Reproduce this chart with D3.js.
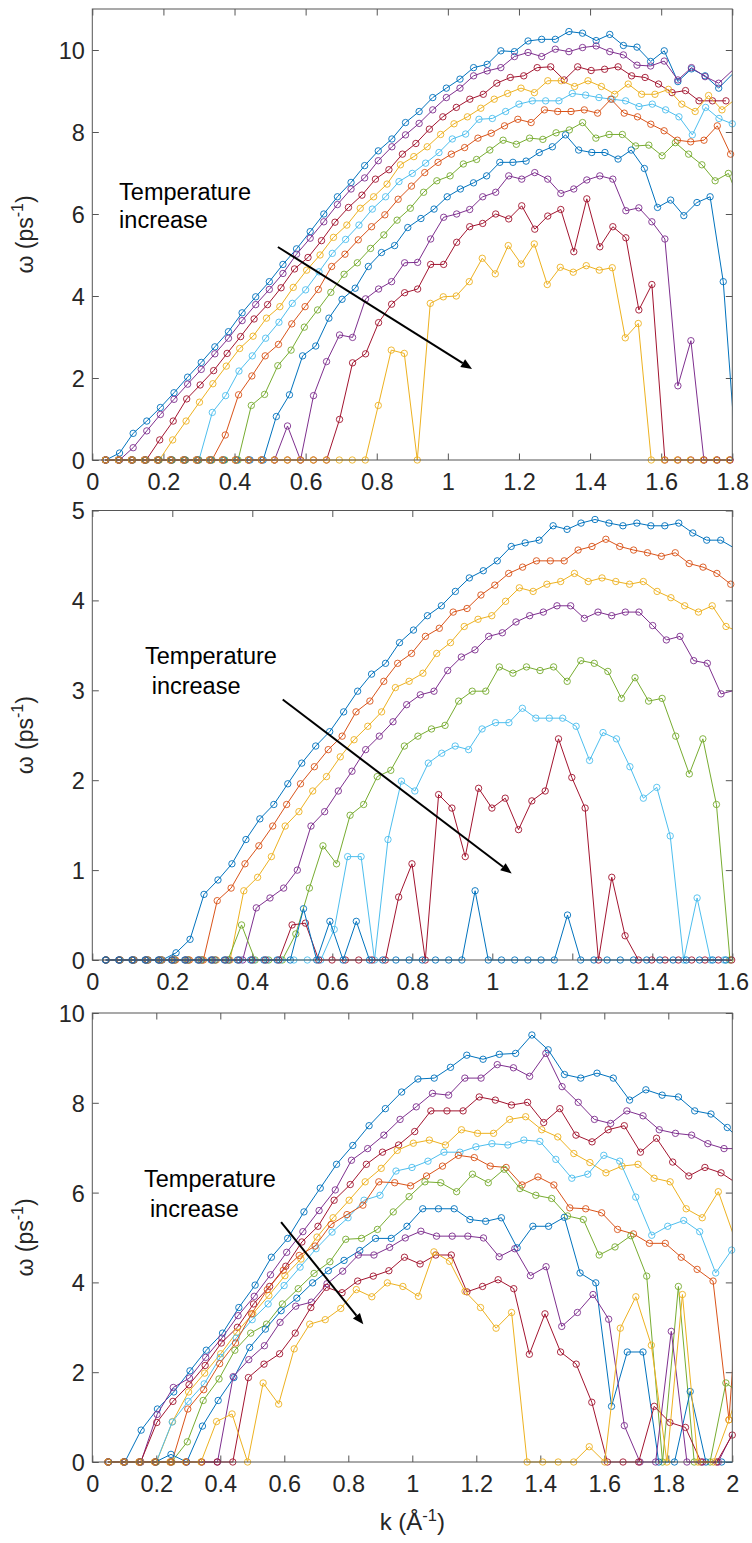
<!DOCTYPE html>
<html><head><meta charset="utf-8">
<script src="https://cdn.jsdelivr.net/npm/d3@7"></script>
<style>
body{margin:0;background:#fff}
svg{display:block}
text{font-family:"Liberation Sans",Arial,Helvetica,sans-serif}
</style>
</head><body>
<svg id="c" width="752" height="1543"></svg>
<script>
// ---------------- DATA ----------------
// Each series: omega values at k = n * step (n = 1, 2, ...), step is the k-grid spacing of that series
const p1XTicks = [0,0.2,0.4,0.6,0.8,1,1.2,1.4,1.6,1.8];
const p1XLabels = ["0","0.2","0.4","0.6","0.8","1","1.2","1.4","1.6","1.8"];
const p1YTicks = [0,2,4,6,8,10];
const p1Step = [0.0383,0.0383,0.03792,0.03768,0.0375,0.0374,0.03727,0.03697,0.0366,0.0366,0.03656];
const p1Omega = [
 [0,0.17,0.65,0.95,1.28,1.64,2.02,2.38,2.76,3.13,3.59,3.98,4.35,4.77,5.15,5.57,6.0,6.42,6.77,7.18,7.54,7.83,8.23,8.50,8.84,9.07,9.29,9.57,9.65,9.98,9.96,10.22,10.26,10.26,10.45,10.41,10.23,10.38,10.11,10.07,9.72,9.98,9.23,9.54,9.37,9.07,9.41],
 [0,0,0.30,0.71,1.11,1.48,1.85,2.21,2.59,2.97,3.40,3.79,4.16,4.55,5.02,5.41,5.81,6.23,6.61,6.88,7.30,7.64,7.93,8.21,8.54,8.84,9.07,9.37,9.49,9.57,9.84,9.94,9.84,10.02,9.96,10.06,10.10,9.96,9.88,9.63,9.61,9.73,9.27,9.57,9.35,9.19,9.50],
 [0,0,0,0,0.49,0.95,1.49,1.83,2.18,2.60,3.01,3.44,3.79,4.20,4.66,4.94,5.35,5.80,6.16,6.46,6.85,7.08,7.46,7.72,8.07,8.37,8.60,8.80,8.92,9.19,9.33,9.37,9.57,9.59,9.27,9.59,9.50,9.53,9.59,9.37,9.33,9.17,8.96,9.01,8.76,8.76,8.76],
 [0,0,0,0,0,0.49,0.95,1.41,1.86,2.29,2.72,3.02,3.46,3.74,4.21,4.63,5.0,5.43,5.73,6.14,6.42,6.73,7.20,7.40,7.64,7.94,8.20,8.37,8.58,8.80,8.94,9.07,8.96,9.25,9.25,9.11,9.25,9.11,8.92,9.17,8.92,8.92,9.04,8.68,8.50,8.89,8.54,8.80],
 [0,0,0,0,0,0,0,0,1.16,1.57,2.17,2.54,2.97,3.36,3.82,4.15,4.59,5.04,5.38,5.73,6.12,6.42,6.79,6.99,7.24,7.50,7.83,7.95,8.31,8.33,8.50,8.68,8.76,8.76,8.76,8.94,8.90,8.84,8.80,8.76,8.62,8.68,8.54,8.37,7.93,8.60,8.33,8.20],
 [0,0,0,0,0,0,0,0,0,0.61,1.59,2.05,2.54,2.82,3.32,3.74,4.16,4.72,5.02,5.37,5.69,5.98,6.36,6.68,7.01,7.26,7.46,7.62,7.85,7.97,8.15,8.31,8.23,8.54,8.50,8.50,8.54,8.46,8.80,8.46,8.37,8.19,8.03,7.80,7.76,7.80,8.15,7.46],
 [0,0,0,0,0,0,0,0,0,0,0,1.33,1.60,2.30,2.68,3.24,3.66,4.09,4.53,4.81,5.16,5.49,5.85,6.14,6.53,6.81,6.93,7.22,7.33,7.56,7.80,7.70,7.85,7.82,7.98,8.05,8.23,7.85,7.94,7.94,7.66,7.68,7.42,7.74,7.46,7.20,6.81,6.99,6.2],
 [0,0,0,0,0,0,0,0,0,0,0,0,0,1.06,1.59,2.54,2.78,3.46,3.92,4.19,4.72,5.06,5.23,5.67,5.89,6.12,6.42,6.61,6.76,6.93,7.26,7.26,7.29,7.50,7.64,7.93,7.56,7.50,7.50,7.34,7.56,7.11,6.16,6.34,5.96,6.28,6.42,4.35,0],
 [0,0,0,0,0,0,0,0,0,0,0,0,0,0,0.83,0,1.57,2.40,3.05,2.99,3.93,4.17,4.35,4.81,4.82,5.39,5.92,6.0,6.11,6.42,6.53,6.93,6.85,7.01,6.85,6.50,6.61,6.83,6.93,6.85,6.08,6.15,5.81,5.39,1.81,2.91,0,0,0],
 [0,0,0,0,0,0,0,0,0,0,0,0,0,0,0,0,0,0,0.99,2.37,2.59,3.35,3.80,4.08,4.17,4.77,4.77,5.31,5.69,5.77,6.0,5.88,6.20,5.63,5.95,6.11,5.08,6.37,5.20,5.69,5.42,3.66,4.28,0,0,0,0,0,0],
 [0,0,0,0,0,0,0,0,0,0,0,0,0,0,0,0,0,0,0,0,0,1.33,2.68,2.60,0,3.82,3.98,4.0,4.35,4.92,4.54,5.23,4.78,5.27,4.28,4.70,4.58,4.74,4.63,4.69,2.98,3.33,0,0,0,0,0,0,0]
];

const p2XTicks = [0,0.2,0.4,0.6,0.8,1,1.2,1.4,1.6];
const p2XLabels = ["0","0.2","0.4","0.6","0.8","1","1.2","1.4","1.6"];
const p2YTicks = [0,1,2,3,4,5];
const p2Step = [0.03491,0.0347,0.03444,0.03417,0.03392,0.0336,0.0333,0.033];
const p2Omega = [
 [0,0,0,0,0,0.08,0.23,0.73,0.89,1.07,1.34,1.57,1.73,1.96,2.19,2.38,2.54,2.76,2.99,3.18,3.30,3.53,3.67,3.83,3.94,4.10,4.25,4.33,4.44,4.60,4.64,4.67,4.83,4.79,4.86,4.90,4.86,4.83,4.86,4.83,4.83,4.86,4.75,4.67,4.67,4.58],
 [0,0,0,0,0,0,0,0,0.66,0.80,1.07,1.27,1.49,1.73,1.96,2.15,2.34,2.49,2.76,2.88,3.10,3.30,3.41,3.60,3.69,3.87,3.91,4.06,4.17,4.30,4.37,4.44,4.44,4.44,4.56,4.60,4.68,4.60,4.56,4.53,4.49,4.53,4.41,4.37,4.30,4.18],
 [0,0,0,0,0,0,0,0,0,0,0.77,0.92,1.15,1.49,1.65,1.88,2.04,2.26,2.45,2.60,2.76,3.03,3.10,3.19,3.41,3.53,3.71,3.79,3.83,3.99,4.14,4.10,4.18,4.21,4.30,4.21,4.25,4.21,4.18,4.21,4.10,4.03,3.94,3.87,3.94,3.71,3.65],
 [0,0,0,0,0,0,0,0,0,0,0,0.58,0.69,0.80,1.0,1.49,1.65,1.88,2.10,2.34,2.49,2.65,2.84,2.95,2.99,3.22,3.37,3.45,3.60,3.64,3.76,3.83,3.87,3.94,3.94,3.80,3.87,3.83,3.87,3.87,3.72,3.56,3.60,3.33,3.30,2.96,3.0],
 [0,0,0,0,0,0,0,0,0,0,0.39,0,0,0,0.29,0.80,1.27,1.07,1.61,1.73,2.04,2.11,2.38,2.49,2.57,2.61,2.88,2.99,2.99,3.26,3.19,3.26,3.22,3.26,3.10,3.33,3.30,3.21,2.91,3.14,2.88,2.91,2.49,2.07,2.46,1.73,0],
 [0,0,0,0,0,0,0,0,0,0,0,0,0,0,0,0,0,0.34,1.15,1.15,0,1.34,1.99,1.88,2.19,2.30,2.38,2.34,2.57,2.64,2.64,2.80,2.69,2.69,2.69,2.60,2.22,2.53,2.46,2.15,1.80,1.92,1.38,0,0.69,0,0],
 [0,0,0,0,0,0,0,0,0,0,0,0,0,0,0.39,0.41,0,0,0,0,0,0,0.70,1.07,0,1.84,1.69,1.15,1.91,1.69,1.80,1.45,1.77,1.88,2.46,2.03,1.69,0,0.92,0.27,0,0,0,0,0,0,0,0],
 [0,0,0,0,0,0,0,0,0,0,0,0,0,0,0,0.57,0,0.43,0,0.43,0,0,0,0,0,0,0,0,0.77,0,0,0,0,0,0,0.50,0,0,0,0,0,0,0,0,0,0,0,0]
];

const p3XTicks = [0,0.2,0.4,0.6,0.8,1,1.2,1.4,1.6,1.8,2];
const p3XLabels = ["0","0.2","0.4","0.6","0.8","1","1.2","1.4","1.6","1.8","2"];
const p3YTicks = [0,2,4,6,8,10];
const p3Step = [0.05088,0.05062,0.05038,0.05016,0.04995,0.04974,0.0495,0.04917,0.0489,0.04878,0.04853];
const p3Omega = [
 [0,0,0.71,1.18,1.56,2.03,2.49,2.87,3.44,3.94,4.56,4.98,5.57,6.10,6.63,7.05,7.49,7.87,8.24,8.53,8.55,8.79,9.06,8.97,9.08,9.10,9.51,9.18,8.63,8.55,8.66,8.55,8.06,8.29,8.17,8.13,7.82,7.75,7.45,7.1],
 [0,0,0,1.06,1.66,1.87,2.33,2.76,3.26,3.69,4.17,4.67,5.13,5.60,6.06,6.72,6.98,7.28,7.63,7.91,8.21,8.17,8.55,8.55,8.85,8.78,8.59,9.10,8.36,8.01,7.63,7.54,7.82,7.71,7.40,7.32,7.28,7.09,6.98,6.98],
 [0,0,0,0.88,1.35,1.72,2.15,2.65,3.0,3.52,3.91,4.36,4.90,5.25,5.83,6.18,6.63,6.90,7.06,7.36,7.82,7.82,7.82,8.13,8.06,7.95,8.01,7.56,7.87,7.28,7.13,7.40,7.49,6.90,7.21,6.68,6.37,6.56,6.44,6.2],
 [0,0,0,0,0.90,1.56,1.98,2.41,2.89,3.30,3.71,4.15,4.52,5.01,5.44,5.83,6.24,6.54,6.94,7.10,7.17,7.06,7.40,7.32,7.32,7.63,7.69,7.40,7.24,6.87,6.67,6.44,6.59,6.63,6.32,6.24,5.64,5.44,6.02,5.0],
 [0,0,0,0,0.89,1.35,1.74,2.33,2.76,3.17,3.52,3.93,4.34,4.75,5.12,5.44,5.83,5.94,6.48,6.56,6.70,6.90,6.90,7.02,7.09,7.06,7.17,7.14,6.74,6.32,6.41,6.83,6.70,5.90,5.05,5.25,5.38,5.13,4.21,4.72],
 [0,0,0,0,0,1.18,1.61,2.19,2.65,3.30,3.84,4.27,4.60,4.81,5.29,5.51,5.72,6.24,6.22,6.15,6.37,6.59,6.83,6.78,6.59,6.56,6.17,6.35,6.17,5.66,5.64,5.55,5.18,5.08,4.87,4.87,4.56,4.29,4.03,0.94,6.0],
 [0,0,0,0,0,0.45,1.37,1.85,2.49,2.87,3.07,3.52,3.86,4.20,4.46,4.96,4.98,5.18,5.57,5.91,6.24,6.22,6.02,6.41,6.22,6.52,6.09,5.94,5.87,5.48,5.40,4.61,4.79,5.04,4.14,0,3.91,0,0,1.76,1.5],
 [0,0,0,0,0.17,0,0.80,1.37,1.88,2.55,2.96,3.37,3.65,3.99,4.26,4.49,4.71,4.98,4.98,5.25,5.64,5.64,5.64,5.40,5.36,5.44,4.77,5.25,5.25,5.45,4.21,3.99,1.24,2.45,2.45,0,0,1.57,0,0,0],
 [0,0,0,0,0,0,0,0,1.90,2.28,2.59,3.11,3.47,3.56,3.97,4.25,4.61,4.61,4.78,4.99,5.14,5.03,5.03,5.03,4.99,4.57,4.75,4.15,4.35,3.02,3.33,3.73,3.18,0.81,0,0,2.91,0,0,0,0.7],
 [0,0,0,0,0,0,0,0,0,1.88,2.18,2.41,2.87,3.44,3.89,3.77,4.03,4.14,4.26,4.56,4.41,4.61,4.61,3.79,3.91,4.06,3.86,2.40,3.30,2.45,2.18,1.33,0,0,0,1.24,0.88,0.77,0,0,0.6],
 [0,0,0,0,0,0,0,0.90,1.07,0,1.76,1.29,2.52,3.07,3.17,3.42,3.84,3.68,3.99,3.91,3.69,4.68,4.47,3.80,3.44,2.98,3.33,0,0,0,0,0.34,0,2.98,3.68,2.60,0,3.73,0,0,0.94,2.0]
];

// annotation text and arrow, in data units (k, omega)
const noteLines = ["Temperature","increase"];
const p1NoteK = [0.0754,0.0754], p1NoteW = [6.34,5.67], p1Arrow = [0.522,5.195,1.068,2.22];
const p2NoteK = [0.1318,0.1485], p2NoteW = [3.289,2.963], p2Arrow = [0.476,2.897,1.0485,0.963];
const p3NoteK = [0.1616,0.180], p3NoteW = [6.13,5.46], p3Arrow = [0.59,5.345,0.847,3.067];

// ---------------- STYLE ----------------
const cB="#0072BD",cO="#D95319",cY="#EDB120",cP="#7E2F8E",cG="#77AC30",cL="#4DBEEE",cR="#A2142F";
const p1Color=[cB,cP,cR,cY,cL,cO,cG,cB,cP,cR,cY];
const p2Color=[cB,cO,cY,cP,cG,cL,cR,cB];
const p3Color=[cB,cP,cR,cY,cL,cO,cG,cB,cP,cR,cY];

const L=92.3, R=732.3;
const panels=[
 {top:9,   bottom:460,  xmax:1.8, ymax:11, xt:p1XTicks, xl:p1XLabels, yt:p1YTicks, steps:p1Step, om:p1Omega, col:p1Color, nk:p1NoteK, nw:p1NoteW, ar:p1Arrow, xlab:false},
 {top:510.5,bottom:960, xmax:1.6, ymax:5,  xt:p2XTicks, xl:p2XLabels, yt:p2YTicks, steps:p2Step, om:p2Omega, col:p2Color, nk:p2NoteK, nw:p2NoteW, ar:p2Arrow, xlab:false},
 {top:1013,bottom:1462, xmax:2,   ymax:10, xt:p3XTicks, xl:p3XLabels, yt:p3YTicks, steps:p3Step, om:p3Omega, col:p3Color, nk:p3NoteK, nw:p3NoteW, ar:p3Arrow, xlab:true}
];

const svg=d3.select("#c");
const FONT='"Liberation Sans",Arial,Helvetica,sans-serif';
const axisCol="#555", textCol="#262626", tickLen=6.5, tickFS=23.5;

function styleAxis(g){
  g.attr("font-family",FONT).attr("font-size",tickFS);
  g.selectAll("path.domain").remove();
  g.selectAll(".tick line").attr("stroke",axisCol).attr("stroke-width",1);
  g.selectAll(".tick text").attr("fill",textCol);
}

panels.forEach((p,pi)=>{
  const x=d3.scaleLinear().domain([0,p.xmax]).range([L,R]);
  const y=d3.scaleLinear().domain([0,p.ymax]).range([p.bottom,p.top]);
  const clipId="clip"+pi;
  svg.append("clipPath").attr("id",clipId).append("rect")
     .attr("x",L).attr("y",p.top-30).attr("width",R-L).attr("height",p.bottom-p.top+60);

  // axes ticks (inward), labels on bottom/left
  const xa=svg.append("g").attr("transform",`translate(0,${p.bottom})`)
    .call(d3.axisBottom(x).tickValues(p.xt).tickFormat((d,i)=>p.xl[i]).tickSizeInner(-tickLen).tickSizeOuter(0).tickPadding(13));
  styleAxis(xa);
  const ya=svg.append("g").attr("transform",`translate(${L},0)`)
    .call(d3.axisLeft(y).tickValues(p.yt).tickFormat(d3.format("d")).tickSizeInner(-tickLen).tickSizeOuter(0).tickPadding(7.5));
  styleAxis(ya);
  ya.selectAll(".tick text").attr("dy","0.36em");
  const xt2=svg.append("g").attr("transform",`translate(0,${p.top})`)
    .call(d3.axisTop(x).tickValues(p.xt).tickFormat("").tickSizeInner(-tickLen).tickSizeOuter(0));
  styleAxis(xt2);
  const yt2=svg.append("g").attr("transform",`translate(${R},0)`)
    .call(d3.axisRight(y).tickValues(p.yt).tickFormat("").tickSizeInner(-tickLen).tickSizeOuter(0));
  styleAxis(yt2);

  // series
  const sg=svg.append("g");
  p.om.forEach((vals,si)=>{
    const pts=vals.map((v,j)=>({k:(j+1)*p.steps[si],w:v}));
    sg.append("path").datum(pts).attr("clip-path",`url(#${clipId})`)
      .attr("d",d3.line().x(d=>x(d.k)).y(d=>y(d.w)))
      .attr("fill","none").attr("stroke",p.col[si]).attr("stroke-width",1);
    sg.append("g").selectAll("circle").data(pts.filter(d=>d.k<=p.xmax+1e-9)).join("circle")
      .attr("cx",d=>x(d.k)).attr("cy",d=>y(d.w)).attr("r",3.2)
      .attr("fill","none").attr("stroke",p.col[si]).attr("stroke-width",0.9);
  });

  // frame
  svg.append("rect").attr("x",L).attr("y",p.top).attr("width",R-L).attr("height",p.bottom-p.top)
     .attr("fill","none").attr("stroke",axisCol).attr("stroke-width",1);

  // y label
  const cy=(p.top+p.bottom)/2;
  const yl=svg.append("text").attr("transform",`translate(25,${cy}) rotate(-90)`)
     .attr("text-anchor","middle").attr("font-size",23).attr("fill",textCol).attr("dominant-baseline","central");
  yl.append("tspan").text("\u03C9 (ps");
  yl.append("tspan").text("-1").attr("font-size",16).attr("dy",-8);
  yl.append("tspan").text(")").attr("dy",8);

  // annotation
  noteLines.forEach((t,i)=>{
    svg.append("text").attr("x",x(p.nk[i])).attr("y",y(p.nw[i]))
      .attr("font-size",23.5).attr("fill","#000").text(t);
  });
  const x0=x(p.ar[0]),y0=y(p.ar[1]),x1=x(p.ar[2]),y1=y(p.ar[3]);
  const ang=Math.atan2(y1-y0,x1-x0), hl=11, hw=4.5;
  const bx=x1-hl*Math.cos(ang), by=y1-hl*Math.sin(ang);
  svg.append("line").attr("x1",x0).attr("y1",y0).attr("x2",bx).attr("y2",by)
     .attr("stroke","#000").attr("stroke-width",2);
  svg.append("path").attr("d",`M${x1},${y1}L${bx-hw*Math.sin(ang)},${by+hw*Math.cos(ang)}L${bx+hw*Math.sin(ang)},${by-hw*Math.cos(ang)}Z`)
     .attr("fill","#000");

  if(p.xlab){
    const xl=svg.append("text").attr("x",(L+R)/2).attr("y",1530).attr("text-anchor","middle")
      .attr("font-size",24).attr("fill",textCol);
    xl.append("tspan").text("k (\u00C5");
    xl.append("tspan").text("-1").attr("font-size",16.5).attr("dy",-9);
    xl.append("tspan").text(")").attr("dy",9);
  }
});
</script>
</body></html>
